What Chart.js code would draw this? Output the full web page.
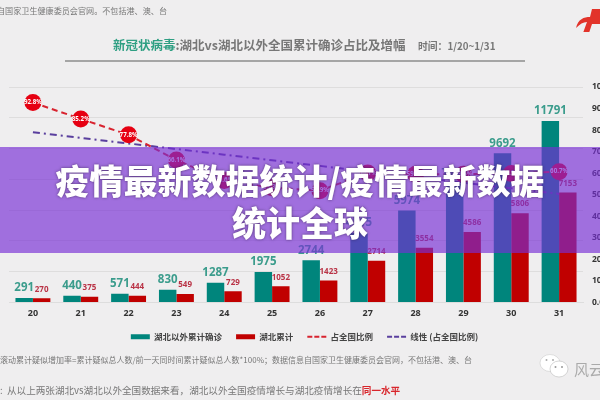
<!DOCTYPE html>
<html lang="zh"><head><meta charset="utf-8">
<style>
html,body{margin:0;padding:0;background:#efeeef;width:600px;height:400px;overflow:hidden;font-family:"Noto Sans CJK SC",sans-serif}
#wrap{position:absolute;left:0;top:0;width:600px;height:400px;filter:blur(.35px)}
canvas{position:absolute;left:0;top:0}
.t{position:absolute;white-space:nowrap;color:#777}
#banner{position:absolute;left:0;top:147px;width:600px;height:106px;background:rgba(118,45,212,.66)}
#headline{position:absolute;left:0;top:159px;width:600px;text-align:center;font:900 34px/42px "Noto Sans CJK SC",sans-serif;color:#fff;text-shadow:0 0 3px rgba(40,20,60,.65);}
</style></head><body>
<div id="wrap">
<canvas id="c" width="600" height="400"></canvas>
<div class="t" style="left:-3px;top:5px;font-size:8.1px;line-height:12px">自国家卫生健康委员会官网。不包括港、澳、台</div>
<div class="t" style="left:113px;top:36px;font-size:12.5px;line-height:18px;font-weight:700"><span style="color:#2f9f83">新冠状病毒</span>:湖北vs湖北以外全国累计确诊占比及增幅</div>
<div class="t" style="left:418px;top:38px;font-size:9.8px;line-height:16px;font-weight:700">时间：1/20~1/31</div>
<div style="position:absolute;left:65px;top:60px;width:460px;height:2px;background:#a5a5a5"></div>
<svg style="position:absolute;left:574px;top:4px" width="26" height="28" viewBox="0 0 26 28"><path d="M2 24C4 15 10 13 16 13L18 5H26V13H26V20H18L15 29H9L13 18C9 18 6 20 2 24Z" fill="#e2332a"/></svg>
<div class="t" style="left:0;top:354px;font-size:8px;line-height:12px">滚动累计疑似增加率=累计疑似总人数/前一天同时间累计疑似总人数*100%；数据信息自国家卫生健康委员会官网，不包括港、澳、台</div>
<div class="t" style="left:0;top:382px;font-size:9.6px;line-height:16px">:&nbsp; 从以上两张湖北vs湖北以外全国数据来看，湖北以外全国疫情增长与湖北疫情增长在<b style="color:#d8262c">同一水平</b></div>
<svg style="position:absolute;left:538px;top:353px" width="32" height="28" viewBox="0 0 32 28"><ellipse cx="12" cy="10" rx="10" ry="8.5" fill="#fff" stroke="#ccc" stroke-width=".6"/><ellipse cx="21" cy="16" rx="9" ry="8" fill="#fff" stroke="#bbb" stroke-width=".6"/><circle cx="17.5" cy="14" r="1" fill="#999"/><circle cx="24" cy="14" r="1" fill="#999"/><circle cx="8.500" cy="7" r="1" fill="#aaa"/><circle cx="15" cy="7" r="1" fill="#aaa"/></svg>
<div class="t" style="left:574px;top:358px;font-size:15px;line-height:22px;color:#aaa">风云</div>
</div>
<div id="banner"></div>
<div id="headline">疫情最新数据统计/疫情最新数据<br>统计全球</div>
<script src="https://cdn.jsdelivr.net/npm/chart.js@4"></script>
<script>
const days = ["20","21","22","23","24","25","26","27","28","29","30","31"];
const outsideHubei = [291,440,571,830,1287,1975,2744,4515,5974,7711,9692,11791];
const hubei = [270,375,444,549,729,1052,1423,2714,3554,4586,5806,7153];
const sharePct = [92.8,85.2,77.8,66.1,56.6,53.3,51.9,60.1,59.5,59.5,59.9,60.7];
const trendPct = [79,76.4,73.8,71.2,68.6,66,63.4,60.8,58.2,55.6,53,50.4];
const legendNames = ["湖北以外累计确诊","湖北累计","占全国比例","线性 (占全国比例)"];

const valueLabels = {
  id:"valueLabels",
  afterDatasetsDraw(chart){
    const ctx = chart.ctx;
    ctx.save();
    ctx.textAlign = "center";
    ctx.textBaseline = "middle";
    chart.getDatasetMeta(0).data.forEach((b,i)=>{
      ctx.font = "700 11.500px 'Open Sans'";
      ctx.fillStyle = "#3b9c8c";
      ctx.fillText(outsideHubei[i], b.x, b.y-10);
    });
    chart.getDatasetMeta(1).data.forEach((b,i)=>{
      ctx.font = "700 8px 'Open Sans'";
      ctx.fillStyle = "#b93245";
      ctx.fillText(hubei[i], b.x, b.y-9);
    });
    chart.getDatasetMeta(2).data.forEach((p,i)=>{
      ctx.font = "700 6.200px 'Open Sans'";
      ctx.fillStyle = "#fff";
      ctx.fillText(sharePct[i].toFixed(1)+"%", p.x, p.y);
    });
    ctx.restore();
  }
};

new Chart(document.getElementById("c"),{
  data:{labels:days,datasets:[
    {type:"bar",label:legendNames[0],data:outsideHubei,backgroundColor:"#00857c",yAxisID:"y",order:2,barPercentage:1,categoryPercentage:.73},
    {type:"bar",label:legendNames[1],data:hubei,backgroundColor:"#c00000",yAxisID:"y",order:2,barPercentage:1,categoryPercentage:.73},
    {type:"line",label:legendNames[2],data:sharePct,yAxisID:"y1",order:1,borderColor:"#d8232f",backgroundColor:"#e60012",borderWidth:2,borderDash:[6,4],pointRadius:8.500,pointBackgroundColor:"#e60012",pointBorderWidth:0,pointStyle:"circle"},
    {type:"line",label:legendNames[3],data:trendPct,yAxisID:"y1",order:1,borderColor:"#5a3f9e",backgroundColor:"#5a3f9e",borderWidth:2,borderDash:[7,4,2,4],pointRadius:0}
  ]},
  options:{
    responsive:false,animation:false,
    layout:{padding:{left:9,top:87,bottom:49,right:0}},
    plugins:{
      title:{display:false},tooltip:{enabled:false},
      legend:{position:"bottom",labels:{
        usePointStyle:true,pointStyleWidth:19,boxHeight:5,padding:14,color:"#444",font:{size:8.5,weight:"700",family:"'Noto Sans CJK SC'"},
        sort:(a,b)=>a.datasetIndex-b.datasetIndex,
        generateLabels(chart){
          return Chart.defaults.plugins.legend.labels.generateLabels(chart).map(it=>{
            const ds = chart.data.datasets[it.datasetIndex];
            const isBar = it.datasetIndex<2;
            it.pointStyle = isBar ? "rect" : "line";
            it.fillStyle = ds.backgroundColor;
            it.strokeStyle = isBar ? ds.backgroundColor : ds.borderColor;
            it.lineWidth = isBar ? 0 : 2;
            it.lineDash = isBar ? [] : [5,2];
            it.fontColor = "#444";
            return it;
          });
        }
      }}
    },
    scales:{
      x:{grid:{display:false,drawTicks:false},border:{color:"#ddd"},ticks:{color:"#333",padding:6,font:{size:9,weight:"700",family:"'Open Sans'"},maxRotation:0},afterFit(s){s.height=16}},
      y:{display:true,position:"left",min:0,max:14000,ticks:{stepSize:2000,display:false},grid:{color:"#dedddd",drawTicks:false},border:{display:false},afterFit(s){s.width=0}},
      y1:{position:"right",min:0,max:100,grid:{display:false},border:{display:false},
        ticks:{stepSize:10,color:"#333",padding:1,font:{size:8.5,weight:"700",family:"'Open Sans'"},callback:v=>v.toFixed(1)+"%"},
        afterFit(s){s.width=17}}
    }
  },
  plugins:[valueLabels]
});
</script>
</body></html>
